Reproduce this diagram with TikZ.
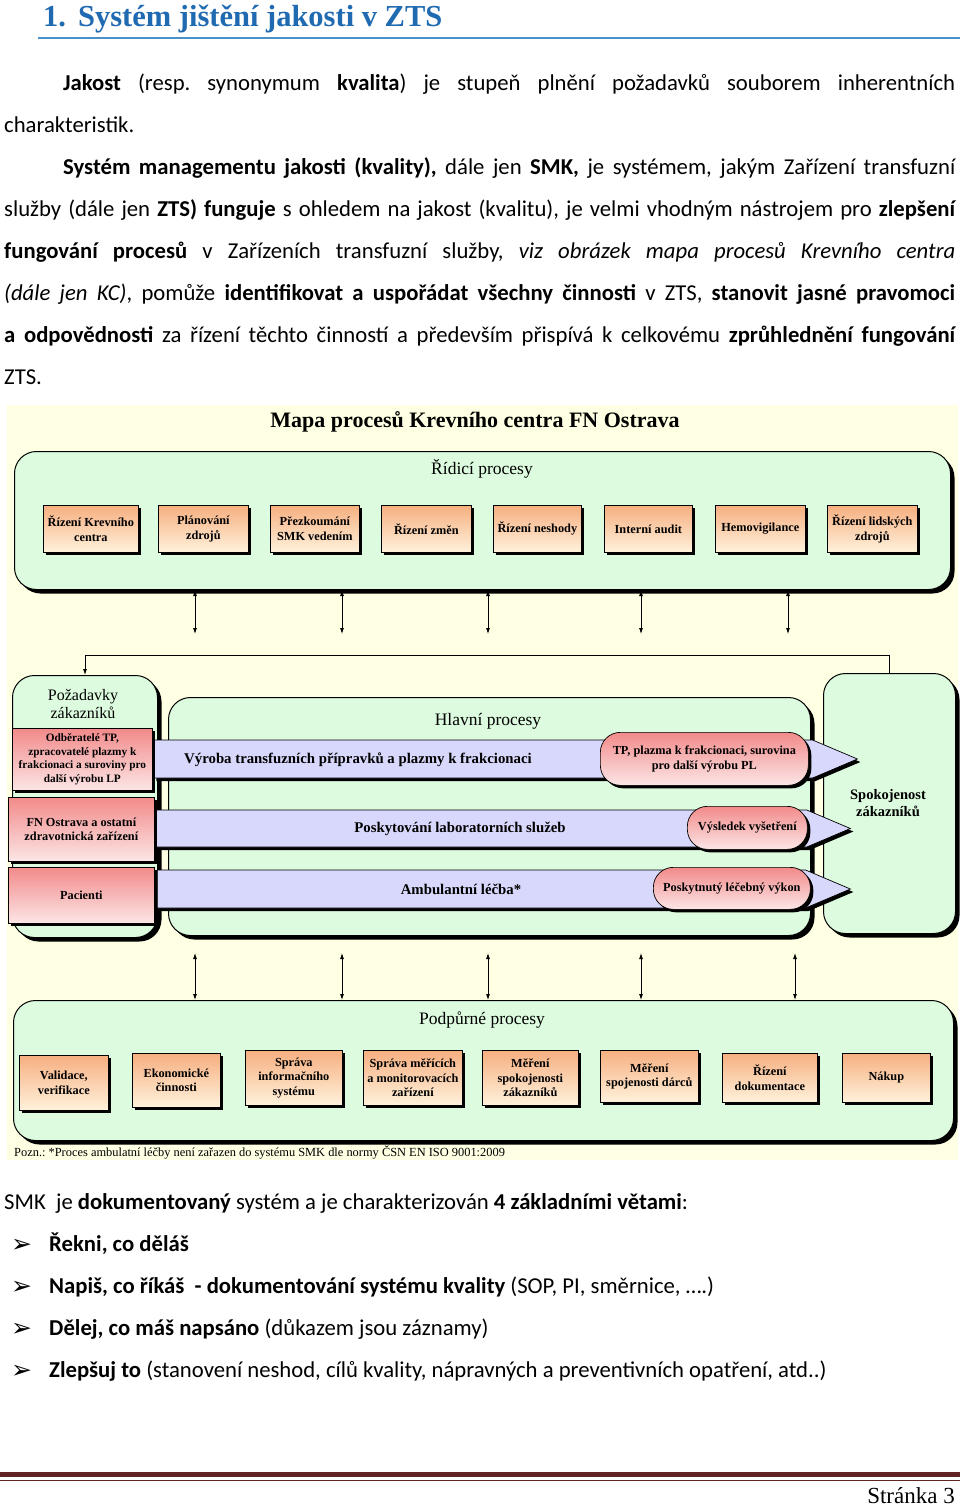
\documentclass[tikz,border=0pt]{standalone}
\usepackage{fontspec}
\setmainfont{Carlito}
\newfontfamily\diafont{Liberation Serif}
\newfontfamily\symfont{DejaVu Sans}
\usetikzlibrary{positioning,shapes.symbols,shadows,arrows.meta}
\frenchspacing

\definecolor{nadpis}{HTML}{1F6AB0}
\definecolor{linka}{HTML}{4A90C8}
\definecolor{podklad}{HTML}{FFFFE3}
\definecolor{zelena}{HTML}{DDFBDF}
\definecolor{oranzT}{HTML}{F6AF80}
\definecolor{oranzB}{HTML}{FFF2DC}
\definecolor{cervT}{HTML}{F28A8A}
\definecolor{cervB}{HTML}{FCE6E6}
\definecolor{modra}{HTML}{D8D8FC}
\definecolor{hneda}{HTML}{622423}

\tikzset{
  radek/.style={anchor=base west, inner sep=0pt, font=\fontsize{22.7}{27}\selectfont},
  stin/.style={drop shadow={shadow xshift=#1, shadow yshift=-#1, fill=black, opacity=1}},
  skupina/.style={draw, line width=1pt, fill=zelena, rounded corners=22pt, anchor=north west, inner sep=0pt, stin=4pt},
  ukol/.style={draw, line width=0.7pt, top color=oranzT, bottom color=oranzB, anchor=north west, inner sep=0pt,
    align=center, font=\diafont\bfseries\fontsize{12.3}{14.5}\selectfont, stin=3pt},
  zakaznik/.style={draw, line width=0.7pt, top color=cervT, bottom color=cervB, anchor=north west, inner sep=0pt,
    align=center, font=\diafont\bfseries\fontsize{12.3}{14.5}\selectfont, stin=3pt},
  vystup/.style={zakaznik, rounded corners=20pt},
  proud/.style={signal, signal to=east, signal pointer angle=46, draw, line width=0.7pt, fill=modra,
    anchor=west, inner sep=0pt, stin=3pt},
  skupnadpis/.style={font=\diafont\fontsize{17.5}{20}\selectfont, align=center},
  pruhtext/.style={font=\diafont\bfseries\fontsize{14.8}{17}\selectfont},
  obous/.style={{Latex[length=6pt,width=4pt]}-{Latex[length=6pt,width=4pt]}, line width=0.8pt},
}

\begin{document}
\begin{tikzpicture}[x=1pt,y=-1pt]
  \useasboundingbox (0,0) rectangle (960,1507);
  \fill[white] (0,0) rectangle (960,1507);

  % nadpis kapitoly
  \node[anchor=base west, inner sep=0pt, text=nadpis, font=\diafont\bfseries\fontsize{30.5}{33}\selectfont]
    (nadp) at (43,26) {1.\hspace{12pt}Systém jištění jakosti v ZTS};
  \draw[linka, line width=1.2pt] (38,38) -- (960,38);

  % odstavce
  \node[radek] (l1) at (63,90) {\makebox[892pt][s]{{\bfseries Jakost} (resp. synonymum {\bfseries kvalita}) je stupeň plnění požadavků souborem inherentních}};
  \node[radek] (l2) at (4,132) {charakteristik.};
  \node[radek] (l3) at (63,174) {\makebox[892pt][s]{{\bfseries Systém managementu jakosti (kvality),} dále jen {\bfseries SMK,} je systémem, jakým Zařízení transfuzní}};
  \node[radek] (l4) at (4,216) {\makebox[951pt][s]{služby (dále jen {\bfseries ZTS) funguje} s ohledem na jakost (kvalitu), je velmi vhodným nástrojem pro {\bfseries zlepšení}}};
  \node[radek] (l5) at (4,258) {\makebox[951pt][s]{{\bfseries fungování procesů} v Zařízeních transfuzní služby, {\itshape viz obrázek mapa procesů Krevního centra}}};
  \node[radek] (l6) at (4,300) {\makebox[951pt][s]{{\itshape (dále jen KC)}, pomůže {\bfseries identifikovat a uspořádat všechny činnosti} v ZTS, {\bfseries stanovit jasné pravomoci}}};
  \node[radek] (l7) at (4,342) {\makebox[951pt][s]{{\bfseries a odpovědnosti} za řízení těchto činností a především přispívá k celkovému {\bfseries zprůhlednění fungování}}};
  \node[radek] (l8) at (4,384) {ZTS.};

  % mapa procesu - podklad
  \fill[podklad] (7,405) rectangle (958,1160);
  \node[font=\diafont\bfseries\fontsize{22}{25}\selectfont] (mapa) at (475,422) {Mapa procesů Krevního centra FN Ostrava};

  % ridici procesy
  \node[skupina, minimum width=936pt, minimum height=138pt] (ridici) at (14,451) {};
  \node[skupnadpis] (ridicinadp) at (482,469) {Řídicí procesy};
  \node[ukol, minimum width=95pt, minimum height=47pt] (r1) at (43,505) {Řízení Krevního\\centra};
  \node[ukol, minimum width=90pt, minimum height=47pt] (r2) at (158,505) {Plánování\\zdrojů};
  \node[ukol, minimum width=89pt, minimum height=47pt] (r3) at (270,505) {Přezkoumání\\SMK vedením};
  \node[ukol, minimum width=90pt, minimum height=47pt] (r4) at (381,505) {Řízení změn};
  \node[ukol, minimum width=88pt, minimum height=47pt] (r5) at (493,505) {Řízení neshody};
  \node[ukol, minimum width=88pt, minimum height=47pt] (r6) at (604,505) {Interní audit};
  \node[ukol, minimum width=90pt, minimum height=47pt] (r7) at (715,505) {Hemovigilance};
  \node[ukol, minimum width=90pt, minimum height=47pt] (r8) at (827,505) {Řízení lidských\\zdrojů};

  % hlavni procesy a zakaznici
  \node[skupina, minimum width=145pt, minimum height=262pt] (pozad) at (12,675) {};
  \node[skupina, minimum width=642pt, minimum height=238pt] (hlavni) at (168,697) {};
  \node[skupina, minimum width=132pt, minimum height=260pt] (spokoj) at (823,673) {};
  \node[font=\diafont\fontsize{16}{18.5}\selectfont, align=center] (pozadnadp) at (83,704) {Požadavky\\zákazníků};
  \node[skupnadpis] (hlavninadp) at (488,721) {Hlavní procesy};
  \node[font=\diafont\bfseries\fontsize{14.5}{17}\selectfont, align=center] (spokojnadp) at (888,803) {Spokojenost\\zákazníků};

  \node[proud, minimum width=704pt, minimum height=38pt] (pruh1) at (153,759) {};
  \node[proud, minimum width=700pt, minimum height=37pt] (pruh2) at (150,828.5) {};
  \node[proud, minimum width=693pt, minimum height=38pt] (pruh3) at (157,889) {};
  \node[pruhtext] (pruh1text) at (358,760) {Výroba transfuzních přípravků a plazmy k frakcionaci};
  \node[pruhtext] (pruh2text) at (460,829) {Poskytování laboratorních služeb};
  \node[pruhtext] (pruh3text) at (461,889) {Ambulantní léčba*};

  \node[zakaznik, minimum width=140pt, minimum height=62pt, font=\diafont\bfseries\fontsize{11.3}{13.5}\selectfont]
    (z1) at (12,728) {Odběratelé TP,\\zpracovatelé plazmy k\\frakcionaci a suroviny pro\\další výrobu LP};
  \node[zakaznik, minimum width=146pt, minimum height=64pt] (z2) at (8,797) {FN Ostrava a ostatní\\zdravotnická zařízení};
  \node[zakaznik, minimum width=146pt, minimum height=56pt] (z3) at (8,867) {Pacienti};

  \node[vystup, minimum width=208pt, minimum height=53pt] (v1) at (600,732) {TP, plazma k frakcionaci, surovina\\pro další výrobu PL};
  \node[vystup, minimum width=120pt, minimum height=43pt] (v2) at (687,806) {Výsledek vyšetření};
  \node[vystup, minimum width=157pt, minimum height=42pt] (v3) at (653,867) {Poskytnutý léčebný výkon};

  % podpurne procesy
  \node[skupina, minimum width=940pt, minimum height=140pt] (podpurne) at (13,1000) {};
  \node[skupnadpis] (podpurnenadp) at (482,1020) {Podpůrné procesy};
  \node[ukol, minimum width=89pt, minimum height=55pt] (p1) at (19,1055) {Validace,\\verifikace};
  \node[ukol, minimum width=88pt, minimum height=54pt] (p2) at (132,1053) {Ekonomické\\činnosti};
  \node[ukol, minimum width=97pt, minimum height=55pt] (p3) at (245,1050) {Správa\\informačního\\systému};
  \node[ukol, minimum width=99pt, minimum height=55pt] (p4) at (363,1050) {Správa měřících\\a monitorovacích\\zařízení};
  \node[ukol, minimum width=96pt, minimum height=55pt] (p5) at (482,1050) {Měření\\spokojenosti\\zákazníků};
  \node[ukol, minimum width=98pt, minimum height=52pt] (p6) at (600,1050) {Měření\\spojenosti dárců};
  \node[ukol, minimum width=95pt, minimum height=49pt] (p7) at (722,1053) {Řízení\\dokumentace};
  \node[ukol, minimum width=88pt, minimum height=49pt] (p8) at (842,1053) {Nákup};

  % vazby mezi skupinami
  \foreach \x in {195,342,488,641,788} {
    \coordinate (k) at (\x,0);
    \draw[obous] (ridici.south -| k) -- ++(0,44);
  }
  \foreach \x in {195,342,488,641,795} {
    \coordinate (k) at (\x,953);
    \draw[obous] (k) -- (podpurne.north -| k);
  }
  \draw[-{Latex[length=6pt,width=4pt]}, line width=0.8pt] (spokoj.north) -- ++(0,-18) -| (pozad.north);

  \node[anchor=base west, inner sep=0pt, font=\diafont\fontsize{12.4}{14}\selectfont] (pozn) at (14,1156)
    {Pozn.: *Proces ambulatní léčby není zařazen do systému SMK dle normy ČSN EN ISO 9001:2009};

  % ctyri zakladni vety
  \node[radek] (smk) at (4,1209) {SMK\ \ je {\bfseries dokumentovaný} systém a je charakterizován {\bfseries 4 základními větami}:};
  \foreach \y/\t in {1251/{{\bfseries Řekni, co děláš}},
                     1293/{{\bfseries Napiš, co říkáš\ \ - dokumentování systému kvality} (SOP, PI, směrnice, ….)},
                     1335/{{\bfseries Dělej, co máš napsáno} (důkazem jsou záznamy)},
                     1377/{{\bfseries Zlepšuj to} (stanovení neshod, cílů kvality, nápravných a preventivních opatření, atd..)}} {
    \node[anchor=base west, inner sep=0pt, font=\symfont\fontsize{25}{27}\selectfont] (o\y) at (11,\y+1) {➢};
    \node[radek] (b\y) at (49,\y) {\t};
  }

  % zapati
  \fill[hneda] (0,1472) rectangle (960,1477);
  \fill[hneda] (0,1479.5) rectangle (960,1481);
  \node[anchor=base east, inner sep=0pt, font=\diafont\fontsize{23}{26}\selectfont] (strana) at (955,1503) {Stránka 3};
\end{tikzpicture}
\end{document}
